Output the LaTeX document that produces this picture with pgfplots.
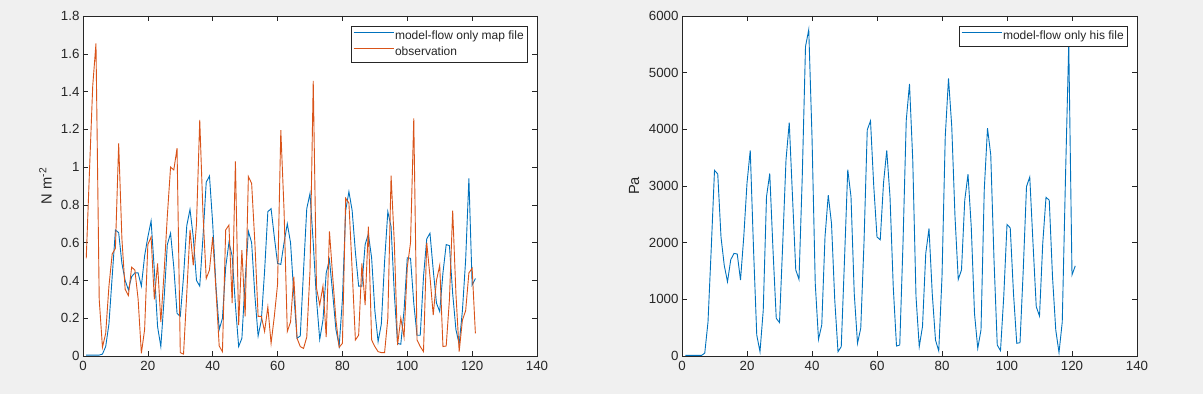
\documentclass[border=0pt]{standalone}
\usepackage{pgfplots}
\pgfplotsset{compat=1.18}
\usepackage{pgfplotstable}
\usepackage{fontspec}
\setmainfont{Liberation Sans}
\definecolor{mblue}{rgb}{0,0.447,0.741}
\definecolor{morange}{rgb}{0.850,0.325,0.098}
\definecolor{axgray}{rgb}{0.15,0.15,0.15}
\definecolor{bggray}{RGB}{240,240,240}

\pgfplotstableread{
x y
1 0.005
2 0.005
3 0.005
4 0.005
5 0.005
6 0.01
7 0.05
8 0.17
9 0.42
10 0.667
11 0.653
12 0.49
13 0.40
14 0.35
15 0.42
16 0.44
17 0.44
18 0.37
19 0.53
20 0.63
21 0.715
22 0.455
23 0.155
24 0.05
25 0.30
26 0.59
27 0.65
28 0.47
29 0.226
30 0.21
31 0.42
32 0.69
33 0.776
34 0.63
35 0.40
36 0.37
37 0.63
38 0.92
39 0.953
40 0.70
41 0.37
42 0.14
43 0.20
44 0.47
45 0.60
46 0.53
47 0.27
48 0.05
49 0.094
50 0.40
51 0.66
52 0.60
53 0.32
54 0.106
55 0.19
56 0.45
57 0.764
58 0.78
59 0.63
60 0.49
61 0.485
62 0.60
63 0.70
64 0.60
65 0.33
66 0.094
67 0.106
68 0.45
69 0.78
70 0.86
71 0.60
72 0.30
73 0.088
74 0.19
75 0.44
76 0.51
77 0.33
78 0.14
79 0.053
80 0.30
81 0.77
82 0.87
83 0.77
84 0.55
85 0.37
86 0.37
87 0.59
88 0.646
89 0.52
90 0.24
91 0.076
92 0.17
93 0.50
94 0.764
95 0.685
96 0.33
97 0.067
98 0.062
99 0.24
100 0.52
101 0.517
102 0.28
103 0.11
104 0.11
105 0.42
106 0.62
107 0.65
108 0.455
109 0.28
110 0.235
111 0.44
112 0.59
113 0.584
114 0.33
115 0.14
116 0.062
117 0.24
118 0.51
119 0.94
120 0.376
121 0.41
}\mapfile

\pgfplotstableread{
x y
1 0.517
2 0.98
3 1.43
4 1.655
5 0.30
6 0.046
7 0.12
8 0.37
9 0.54
10 0.57
11 1.125
12 0.62
13 0.353
14 0.32
15 0.47
16 0.455
17 0.30
18 0.014
19 0.14
20 0.59
21 0.63
22 0.30
23 0.49
24 0.18
25 0.44
26 0.74
27 1.0
28 0.985
29 1.10
30 0.018
31 0.01
32 0.33
33 0.667
34 0.48
35 0.70
36 1.25
37 0.755
38 0.41
39 0.455
40 0.63
41 0.35
42 0.053
43 0.023
44 0.667
45 0.693
46 0.28
47 1.03
48 0.164
49 0.56
50 0.21
51 0.95
52 0.914
53 0.60
54 0.21
55 0.21
56 0.13
57 0.26
58 0.067
59 0.21
60 0.38
61 1.196
62 0.77
63 0.13
64 0.18
65 0.42
66 0.094
67 0.05
68 0.04
69 0.10
70 0.45
71 1.456
72 0.36
73 0.27
74 0.37
75 0.10
76 0.66
77 0.42
78 0.19
79 0.046
80 0.067
81 0.835
82 0.81
83 0.455
84 0.085
85 0.11
86 0.49
87 0.27
88 0.685
89 0.085
90 0.05
91 0.023
92 0.018
93 0.018
94 0.2
95 0.955
96 0.60
97 0.058
98 0.2
99 0.10
100 0.47
101 0.6
102 1.258
103 0.085
104 0.05
105 0.023
106 0.6
107 0.42
108 0.217
109 0.40
110 0.48
111 0.05
112 0.053
113 0.3
114 0.77
115 0.33
116 0.023
117 0.19
118 0.24
119 0.44
120 0.464
121 0.12
}\obs

\pgfplotstableread{
x y
1 10
2 10
3 10
4 10
5 10
6 10
7 50
8 600
9 1900
10 3276
11 3212
12 2100
13 1600
14 1310
15 1700
16 1810
17 1800
18 1340
19 2100
20 3050
21 3630
22 1900
23 370
24 76
25 810
26 2810
27 3220
28 1870
29 665
30 590
31 1990
32 3460
33 4120
34 2810
35 1520
36 1350
37 3160
38 5460
39 5760
40 3870
41 1280
42 294
43 547
44 2100
45 2840
46 2340
47 990
48 76
49 165
50 1700
51 3290
52 2810
53 1100
54 224
55 490
56 2000
57 3990
58 4150
59 3000
60 2100
61 2050
62 3050
63 3630
64 2810
65 1220
66 176
67 194
68 1990
69 4160
70 4800
71 3460
72 1050
73 165
74 520
75 1810
76 2250
77 1100
78 280
79 90
80 1400
81 3870
82 4900
83 4050
84 2460
85 1350
86 1520
87 2750
88 3210
89 2280
90 750
91 135
92 460
93 2930
94 4020
95 3550
96 1700
97 194
98 94
99 1050
100 2320
101 2260
102 1100
103 224
104 235
105 1520
106 2990
107 3160
108 1990
109 870
110 705
111 1990
112 2800
113 2750
114 1400
115 460
116 60
117 600
118 3160
119 5520
120 1430
121 1590
}\hisfile

\pgfplotsset{
  matstyle/.style={
    scale only axis,
    height=340pt,
    xmin=0, xmax=140,
    xtick={0,20,...,140},
    axis background/.style={fill=white},
    axis line style={axgray, line width=0.5pt},
    tick style={axgray, line width=0.5pt},
    tick align=inside,
    xtick pos=both, ytick pos=both,
    xticklabel pos=lower, yticklabel pos=left,
    major tick length=5pt,
    ticklabel style={font=\fontsize{13.3}{15}\selectfont, text=axgray},
    xticklabel style={yshift=-1.5pt},
    /pgf/number format/assume math mode=true,
    /pgf/number format/1000 sep={},
    scaled ticks=false,
    ylabel style={font=\fontsize{14.7}{17}\selectfont, text=axgray},
    legend style={draw=axgray, line width=0.5pt, fill=white,
      font=\fontsize{12}{14}\selectfont, text=axgray,
      at={(1,1)}, anchor=north east, xshift=-10pt, yshift=-10pt,
      inner xsep=2pt, inner ysep=2pt, row sep=0pt,
      nodes={inner sep=1pt, text height=10pt, text depth=4pt}},
    legend cell align=left,
    legend image code/.code={\draw[##1, line width=0.9pt] (0pt,3.5pt) -- (40pt,3.5pt);},
    every axis plot/.append style={line width=0.9pt},
  }
}

\begin{document}
\begin{tikzpicture}[x=1pt,y=1pt]
\fill[bggray] (0,0) rectangle (1203,394);
\useasboundingbox (0,0) rectangle (1203,394);

\begin{axis}[matstyle,
  at={(83pt,38pt)}, anchor=south west,
  width=454pt,
  ymin=0, ymax=1.8,
  ytick={0,0.2,...,1.8},
  ylabel={N m\textsuperscript{-2}},
  ylabel style={at={(axis description cs:-0.083,0.5)}, anchor=center},
]
\addplot[mblue, no marks] table[x=x,y=y] {\mapfile};
\addlegendentry{model-flow only map file}
\addplot[morange, no marks] table[x=x,y=y] {\obs};
\addlegendentry{observation}
\end{axis}

\begin{axis}[matstyle,
  at={(682pt,38pt)}, anchor=south west,
  width=455pt,
  ymin=0, ymax=6000,
  ytick={0,1000,...,6000},
  ylabel={Pa},
  ylabel style={at={(axis description cs:-0.105,0.5)}, anchor=center},
]
\addplot[mblue, no marks] table[x=x,y=y] {\hisfile};
\addlegendentry{model-flow only his file}
\end{axis}
\end{tikzpicture}
\end{document}
